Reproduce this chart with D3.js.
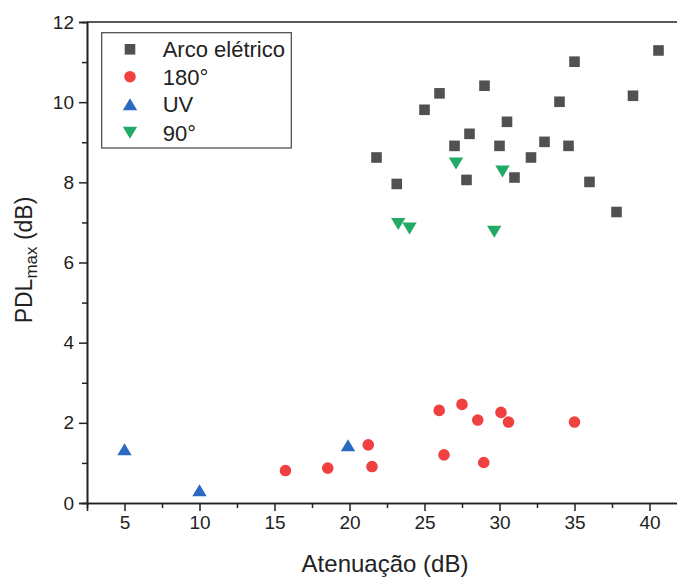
<!DOCTYPE html>
<html><head><meta charset="utf-8">
<script src="https://cdn.jsdelivr.net/npm/d3@7"></script>
<style>
body{margin:0;background:#fff;}
svg{display:block;font-family:"Liberation Sans",Arial,sans-serif;}
</style></head>
<body><div id="chart"></div>
<script>
const seriesNames = ["Arco elétrico","180°","UV","90°"];
const seriesColors = ["#515151","#F14040","#2A6AC0","#22AA66"];

const arcoX = [21.8,23.15,25.0,26.0,27.0,27.8,28.0,29.0,30.0,30.5,31.0,32.1,33.0,34.0,34.6,35.0,36.0,37.8,38.9,40.6];
const arcoY = [8.62,7.96,9.81,10.22,8.91,8.06,9.21,10.41,8.91,9.51,8.12,8.62,9.01,10.01,8.91,11.01,8.01,7.26,10.16,11.29];

const c180X = [15.73,18.55,21.5,21.25,25.98,27.5,28.55,30.1,30.6,26.3,28.95,35.0];
const c180Y = [0.81,0.87,0.91,1.45,2.31,2.46,2.07,2.26,2.02,1.2,1.01,2.02];

const uvX = [5.0,10.0,19.9];
const uvY = [1.34,0.32,1.44];

const d90X = [27.1,30.2,23.25,24.0,29.65];
const d90Y = [8.47,8.27,6.96,6.85,6.77];

const xTicks = [5,10,15,20,25,30,35,40];
const xMinor = [7.5,12.5,17.5,22.5,27.5,32.5,37.5,42.5];
const yTicks = [0,2,4,6,8,10,12];
const yMinor = [1,3,5,7,9,11];

const W = 677, H = 577;
const mLeft = 87, mRight = 687, mTop = 22, mBottom = 503;

const svg = d3.select("#chart").append("svg").attr("width", W).attr("height", H);
const x = d3.scaleLinear().domain([2.5, 42.5]).range([mLeft, mRight]);
const y = d3.scaleLinear().domain([0, 12]).range([mBottom, mTop]);

// axes
const axStroke = "#222";
const gx = svg.append("g").attr("transform", `translate(0,${mBottom})`);
gx.call(d3.axisBottom(x).tickValues(xTicks).tickSize(8).tickPadding(5).tickFormat(d3.format("d")));
gx.append("g").call(d3.axisBottom(x).tickValues(xMinor).tickSize(5).tickFormat(""));
const gy = svg.append("g").attr("transform", `translate(${mLeft},0)`);
gy.call(d3.axisLeft(y).tickValues(yTicks).tickSize(8).tickPadding(5).tickFormat(d3.format("d")));
gy.append("g").call(d3.axisLeft(y).tickValues(yMinor).tickSize(5).tickFormat(""));
svg.selectAll(".domain").attr("stroke", axStroke).attr("stroke-width", 1.6);
svg.selectAll(".tick line").attr("stroke", axStroke).attr("stroke-width", 1.5);
svg.selectAll(".tick text").attr("fill", "#222").style("font-size", "19px");
// top border
svg.append("line").attr("x1", x(2.5)).attr("x2", x(42.5)).attr("y1", y(12)).attr("y2", y(12))
  .attr("stroke", axStroke).attr("stroke-width", 1.6);

// titles
svg.append("text").attr("x", 385).attr("y", 572).attr("text-anchor", "middle")
  .style("font-size", "24px").attr("fill", "#222")
  .text("Atenuação (dB)");
const yt = svg.append("text").attr("transform", `translate(32,260) rotate(-90)`)
  .attr("text-anchor", "middle").style("font-size", "23px").attr("fill", "#222");
yt.append("tspan").text("PDL");
yt.append("tspan").attr("dy", 5).style("font-size", "17px").text("max");
yt.append("tspan").attr("dy", -5).text(" (dB)");

// marker paths
function markerPath(kind) {
  if (kind === 0) { const s = 10.6; return `M${-s/2},${-s/2}h${s}v${s}h${-s}Z`; }
  if (kind === 1) { const r = 5.8; return d3.symbol(d3.symbolCircle, Math.PI*r*r)(); }
  if (kind === 2) { const w = 14.4, h = 12; return `M0,${-h/2}L${w/2},${h/2}L${-w/2},${h/2}Z`; }
  const w = 14.4, h = 12; return `M0,${h/2}L${w/2},${-h/2}L${-w/2},${-h/2}Z`;
}

const allSeries = [
  {xs: arcoX, ys: arcoY},
  {xs: c180X, ys: c180Y},
  {xs: uvX, ys: uvY},
  {xs: d90X, ys: d90Y}
];
allSeries.forEach((s, i) => {
  svg.append("g").selectAll("path").data(s.xs.map((v, j) => [v, s.ys[j]])).join("path")
    .attr("d", markerPath(i))
    .attr("transform", d => `translate(${x(d[0])},${y(d[1])})`)
    .attr("fill", seriesColors[i]);
});

// legend
const lg = svg.append("g");
lg.append("rect").attr("x", 101.7).attr("y", 32.7).attr("width", 189.6).attr("height", 115.3)
  .attr("fill", "#fff").attr("stroke", "#444").attr("stroke-width", 1.2);
const rowY = [49.3, 76.7, 104.3, 132.7];
seriesNames.forEach((n, i) => {
  lg.append("path").attr("d", markerPath(i)).attr("transform", `translate(130,${rowY[i]})`)
    .attr("fill", seriesColors[i]);
  lg.append("text").attr("x", 162.7).attr("y", rowY[i]).attr("dy", "0.36em")
    .style("font-size", "22px").attr("fill", "#222").text(n);
});
</script></body></html>
